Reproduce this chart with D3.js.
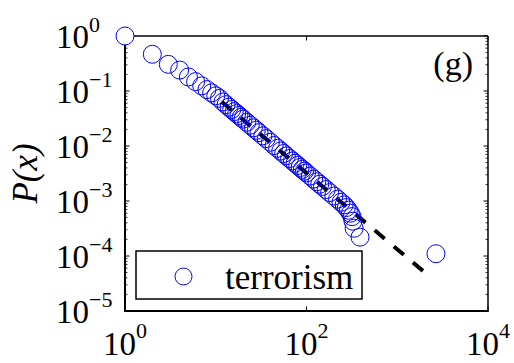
<!DOCTYPE html>
<html>
<head>
<meta charset="utf-8">
<script src="https://cdn.jsdelivr.net/npm/d3@7"></script>
<style>
  html, body { margin: 0; padding: 0; background: #fff; }
  svg { display: block; }
  text { font-family: "Liberation Serif", "Times New Roman", serif; fill: #000; }
</style>
</head>
<body>
<svg id="chart" width="514" height="363"></svg>
<script>
// Complementary cumulative distribution of event sizes
const sizeX = [1, 2, 3, 4, 5, 6, 7, 8, 9, 10, 11, 12, 13, 14, 15, 16, 17, 18, 19, 20,
  22, 24, 26, 28, 30, 33, 36, 40, 44, 48, 52, 56, 60, 65, 70, 75, 80, 85, 90, 95,
  100, 110, 120, 130, 140, 150, 165, 180, 200, 220, 240, 260, 275, 290, 305, 318,
  325, 335, 389, 2670];
const probP = [1, 0.465, 0.305, 0.24, 0.18, 0.148, 0.124, 0.106, 0.0925, 0.0818, 0.0734,
  0.0631, 0.0564, 0.0508, 0.0461, 0.0422, 0.0388, 0.0358, 0.0331, 0.0308,
  0.027, 0.0239, 0.0214, 0.0193, 0.0175, 0.0153, 0.0136, 0.0117, 0.0102, 0.00906,
  0.00809, 0.0073, 0.00662, 0.00592, 0.00535, 0.00485, 0.00443, 0.00407, 0.00376, 0.00348,
  0.00324, 0.00284, 0.00251, 0.00224, 0.00202, 0.00184, 0.00161, 0.00142, 0.00123, 0.00108,
  0.00095, 0.00085, 0.00076, 0.00068, 0.0006, 0.00052, 0.00043, 0.00032, 0.00022, 0.00011];

// Power-law fit endpoints
const fitX = [11.6, 2290];
const fitP = [0.064, 4.2e-5];

const xTickExp = [0, 2, 4];
const yTickExp = [0, -1, -2, -3, -4, -5];
const seriesName = "terrorism";
const panelTag = "(g)";

const svg = d3.select("#chart");
const L = 125, R = 488, T = 36, B = 311;

const x = d3.scaleLog().domain([1, 1e4]).range([L, R]);
const y = d3.scaleLog().domain([1e-5, 1]).range([B, T]);

// y minor tick values (2..9 within each decade)
const yMinor = [];
for (let e = -5; e < 0; e++) for (let m = 2; m <= 9; m++) yMinor.push(m * Math.pow(10, e));

const frame = svg.append("g");
const majLen = 4.5, minLen = 2.5;

// left & right ticks (inward)
frame.selectAll(".ylmaj").data(yTickExp).join("line")
  .attr("x1", L).attr("x2", L + majLen)
  .attr("y1", d => y(Math.pow(10, d))).attr("y2", d => y(Math.pow(10, d)))
  .attr("stroke", "#000").attr("stroke-width", 1);
frame.selectAll(".yrmaj").data(yTickExp).join("line")
  .attr("x1", R).attr("x2", R - majLen)
  .attr("y1", d => y(Math.pow(10, d))).attr("y2", d => y(Math.pow(10, d)))
  .attr("stroke", "#000").attr("stroke-width", 1);
frame.selectAll(".ylmin").data(yMinor).join("line")
  .attr("x1", L).attr("x2", L + minLen)
  .attr("y1", d => y(d)).attr("y2", d => y(d))
  .attr("stroke", "#000").attr("stroke-width", 0.8);
frame.selectAll(".yrmin").data(yMinor).join("line")
  .attr("x1", R).attr("x2", R - minLen)
  .attr("y1", d => y(d)).attr("y2", d => y(d))
  .attr("stroke", "#000").attr("stroke-width", 0.8);
// bottom & top ticks
frame.selectAll(".xbmaj").data(xTickExp).join("line")
  .attr("x1", d => x(Math.pow(10, d))).attr("x2", d => x(Math.pow(10, d)))
  .attr("y1", B).attr("y2", B - majLen)
  .attr("stroke", "#000").attr("stroke-width", 1);
frame.selectAll(".xtmaj").data(xTickExp).join("line")
  .attr("x1", d => x(Math.pow(10, d))).attr("x2", d => x(Math.pow(10, d)))
  .attr("y1", T).attr("y2", T + majLen)
  .attr("stroke", "#000").attr("stroke-width", 1);

// box
frame.append("line").attr("x1", L).attr("x2", R).attr("y1", T).attr("y2", T)
  .attr("stroke", "#000").attr("stroke-width", 1.5);
frame.append("line").attr("x1", R).attr("x2", R).attr("y1", T).attr("y2", B)
  .attr("stroke", "#000").attr("stroke-width", 1.5);
frame.append("line").attr("x1", L - 1).attr("x2", R + 0.75).attr("y1", B).attr("y2", B)
  .attr("stroke", "#000").attr("stroke-width", 2);
frame.append("line").attr("x1", L).attr("x2", L).attr("y1", T).attr("y2", B + 1)
  .attr("stroke", "#000").attr("stroke-width", 2);

// tick labels
const tickFont = 33, supFont = 22;
svg.selectAll(".xlab").data(xTickExp).join("text")
  .attr("x", d => x(Math.pow(10, d))).attr("y", 355)
  .attr("text-anchor", "middle")
  .style("font-size", tickFont + "px")
  .each(function(d) {
    const t = d3.select(this);
    t.append("tspan").text("10");
    t.append("tspan").attr("dy", -17).style("font-size", supFont + "px").text(String(d));
  });
svg.selectAll(".ylab").data(yTickExp).join("text")
  .attr("x", 56).attr("y", d => y(Math.pow(10, d)) + 12)
  .attr("text-anchor", "start")
  .style("font-size", tickFont + "px")
  .each(function(d) {
    const t = d3.select(this);
    t.append("tspan").text("10");
    t.append("tspan").attr("dy", -16).style("font-size", supFont + "px")
      .text(d === 0 ? "0" : "\u2212" + String(-d));
  });

// axis title
svg.append("text")
  .attr("transform", `translate(37,${(T + B) / 2}) rotate(-90)`)
  .attr("text-anchor", "middle")
  .style("font-size", "35px")
  .style("font-style", "italic")
  .text("P(x)");

// fit line
svg.append("line")
  .attr("x1", x(fitX[0])).attr("y1", y(fitP[0]))
  .attr("x2", x(fitX[1])).attr("y2", y(fitP[1]))
  .attr("stroke", "#000").attr("stroke-width", 4)
  .attr("stroke-dasharray", "13,12");

// data markers; the first sits on the frame corner and is filled white
svg.append("g").selectAll("circle").data(sizeX.map((v, i) => [v, probP[i]])).join("circle")
  .attr("cx", d => x(d[0])).attr("cy", d => y(d[1])).attr("r", 9)
  .attr("fill", (d, i) => i === 0 ? "#fff" : "none")
  .attr("stroke", "#0000ff").attr("stroke-width", 1);

// panel tag
svg.append("text").attr("x", 473).attr("y", 75).attr("text-anchor", "end")
  .style("font-size", "34px").text(panelTag);

// legend
const lg = svg.append("g");
lg.append("rect").attr("x", 136).attr("y", 251).attr("width", 226).attr("height", 48)
  .attr("fill", "#fff").attr("stroke", "#000").attr("stroke-width", 1.5);
lg.append("circle").attr("cx", 183.5).attr("cy", 276.5).attr("r", 8.5)
  .attr("fill", "none").attr("stroke", "#0000ff").attr("stroke-width", 1);
lg.append("text").attr("x", 225).attr("y", 289).style("font-size", "35px").text(seriesName);
</script>
</body>
</html>
